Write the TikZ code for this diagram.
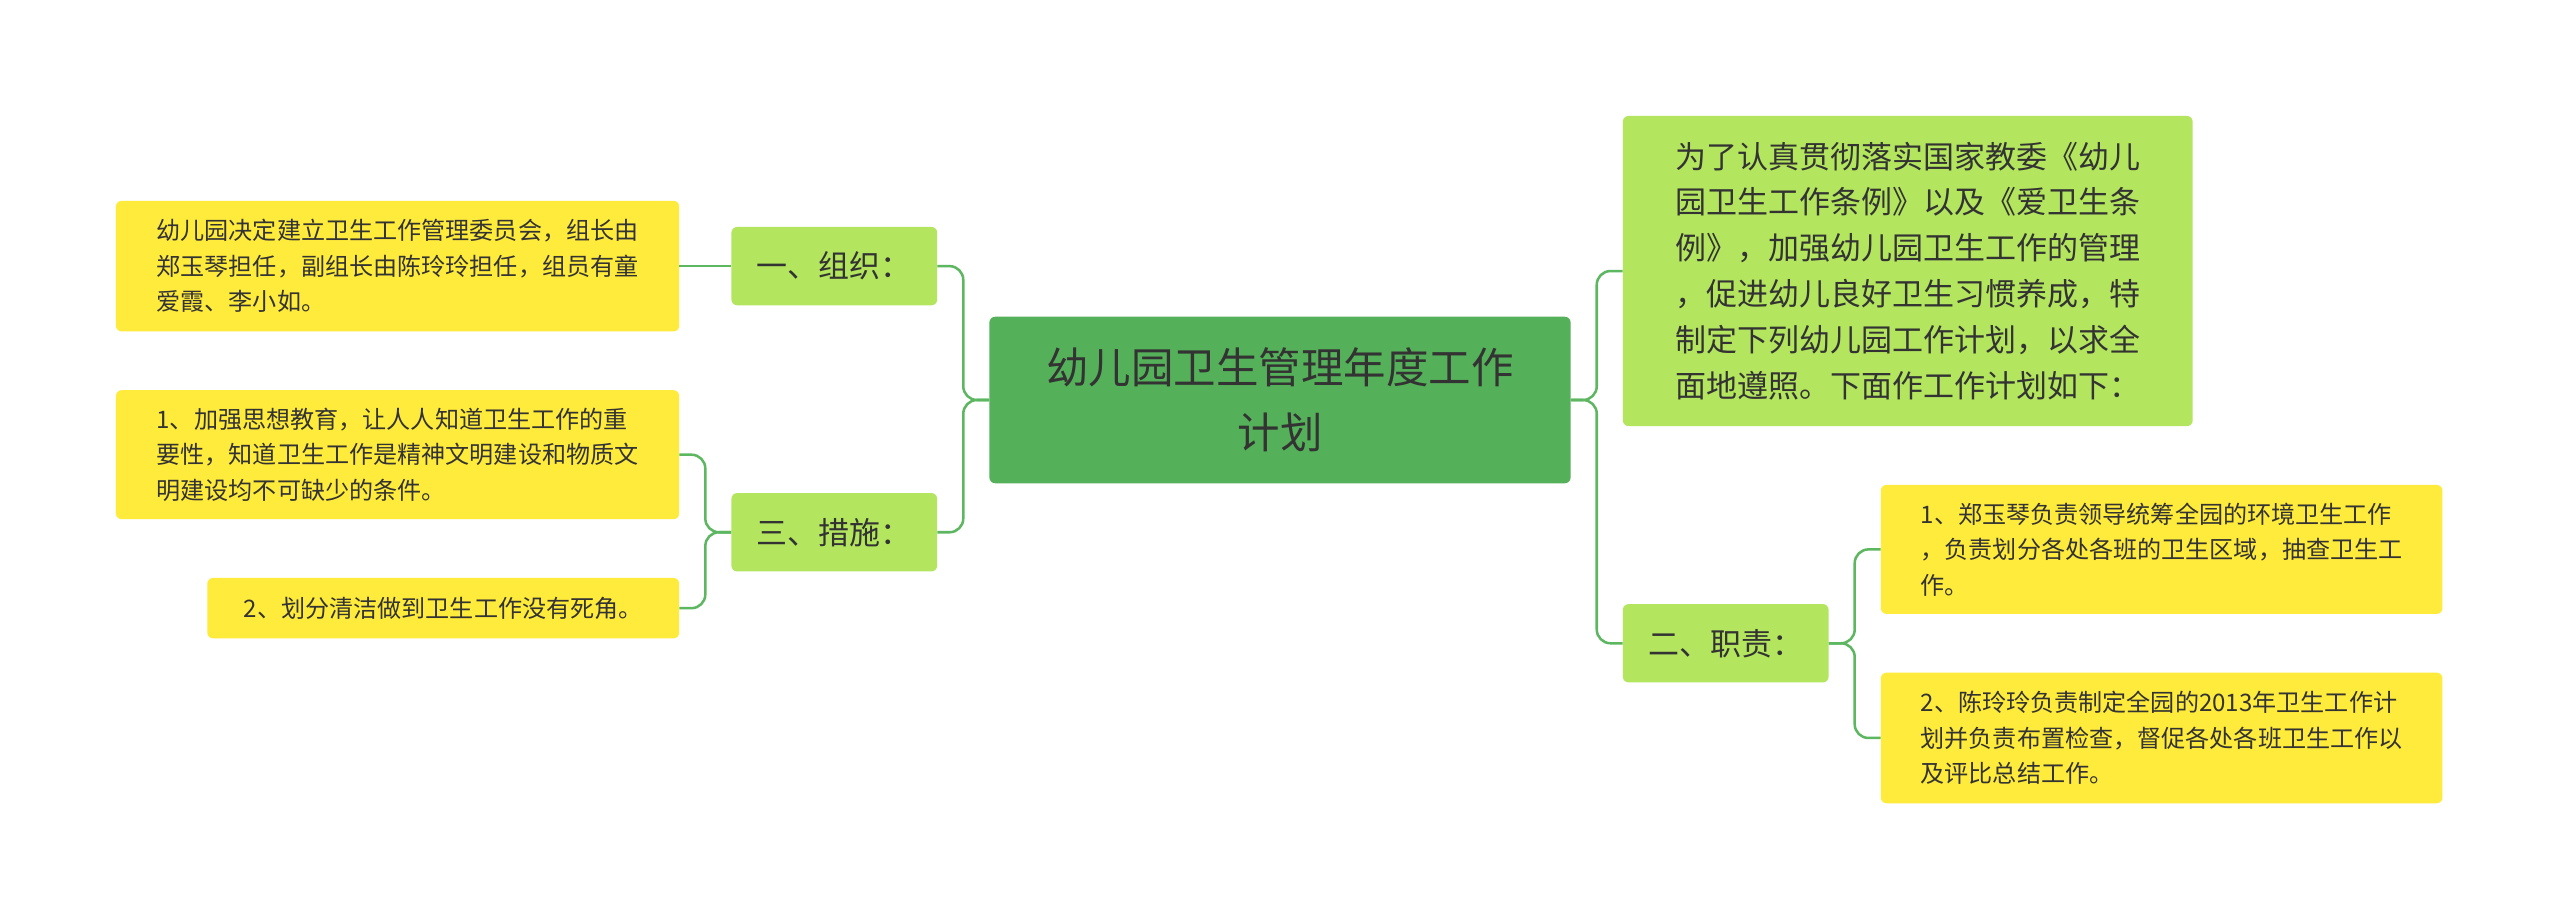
\documentclass[tikz,border=0pt]{standalone}
\usepackage{fontspec}
\setmainfont{Noto Sans CJK SC}
\begin{document}
\begin{tikzpicture}[x=0.05cm,y=-0.05cm,
  base/.style={rounded corners=5pt,inner sep=0pt,align=left,text=black!80},
  root/.style={base,fill=rootg,align=center,font=\fontsize{37}{57}\selectfont},
  lvone/.style={base,fill=lg,font=\fontsize{27}{40}\selectfont},
  leaf/.style={base,fill=yl,font=\fontsize{21}{31}\selectfont},
  conn/.style={draw=lineg,line width=2.2pt,rounded corners=12pt}]
\definecolor{rootg}{HTML}{55B05A}
\definecolor{lg}{HTML}{B3E55E}
\definecolor{yl}{HTML}{FFEB3B}
\definecolor{lineg}{HTML}{5DB761}
\fill[white] (0,0) rectangle (1568,563);
\useasboundingbox (0,0) rectangle (1568,563);
\node[root,minimum width=356*0.05cm,minimum height=102*0.05cm] (c) at (784,245) {幼儿园卫生管理年度工作\\计划};
\node[lvone,minimum width=349*0.05cm,minimum height=190*0.05cm] (t) at (1168.5,166) {为了认真贯彻落实国家教委《幼儿\\园卫生工作条例》以及《爱卫生条\\例》，加强幼儿园卫生工作的管理\\，促进幼儿良好卫生习惯养成，特\\制定下列幼儿园工作计划，以求全\\面地遵照。下面作工作计划如下：};
\node[lvone,minimum width=126*0.05cm,minimum height=48*0.05cm,align=center] (z) at (1057,394) {二、职责：};
\node[leaf,minimum width=344*0.05cm,minimum height=79*0.05cm] (z1) at (1324,336.5) {1、郑玉琴负责领导统筹全园的环境卫生工作\\，负责划分各处各班的卫生区域，抽查卫生工\\作。};
\node[leaf,minimum width=344*0.05cm,minimum height=80*0.05cm] (z2) at (1324,452) {2、陈玲玲负责制定全园的2013年卫生工作计\\划并负责布置检查，督促各处各班卫生工作以\\及评比总结工作。};
\node[lvone,minimum width=126*0.05cm,minimum height=48*0.05cm,align=center] (o) at (511,163) {一、组织：};
\node[leaf,minimum width=345*0.05cm,minimum height=80*0.05cm] (o1) at (243.5,163) {幼儿园决定建立卫生工作管理委员会，组长由\\郑玉琴担任，副组长由陈玲玲担任，组员有童\\爱霞、李小如。};
\node[lvone,minimum width=126*0.05cm,minimum height=48*0.05cm,align=center] (s) at (511,326) {三、措施：};
\node[leaf,minimum width=345*0.05cm,minimum height=79*0.05cm] (s1) at (243.5,278.5) {1、加强思想教育，让人人知道卫生工作的重\\要性，知道卫生工作是精神文明建设和物质文\\明建设均不可缺少的条件。};
\node[leaf,minimum width=289*0.05cm,minimum height=37*0.05cm,align=center] (s2) at (271.5,372.5) {2、划分清洁做到卫生工作没有死角。};
\draw[conn] (c.east) -- (978,245) |- (t.west);
\draw[conn] (c.east) -- (978,245) |- (z.west);
\draw[conn] (z.east) -- (1136,394) |- (z1.west);
\draw[conn] (z.east) -- (1136,394) |- (z2.west);
\draw[conn] (c.west) -- (590,245) |- (o.east);
\draw[conn] (c.west) -- (590,245) |- (s.east);
\draw[conn] (o.west) -- (o1.east);
\draw[conn] (s.west) -- (432,326) |- (s1.east);
\draw[conn] (s.west) -- (432,326) |- (s2.east);
\end{tikzpicture}
\end{document}
